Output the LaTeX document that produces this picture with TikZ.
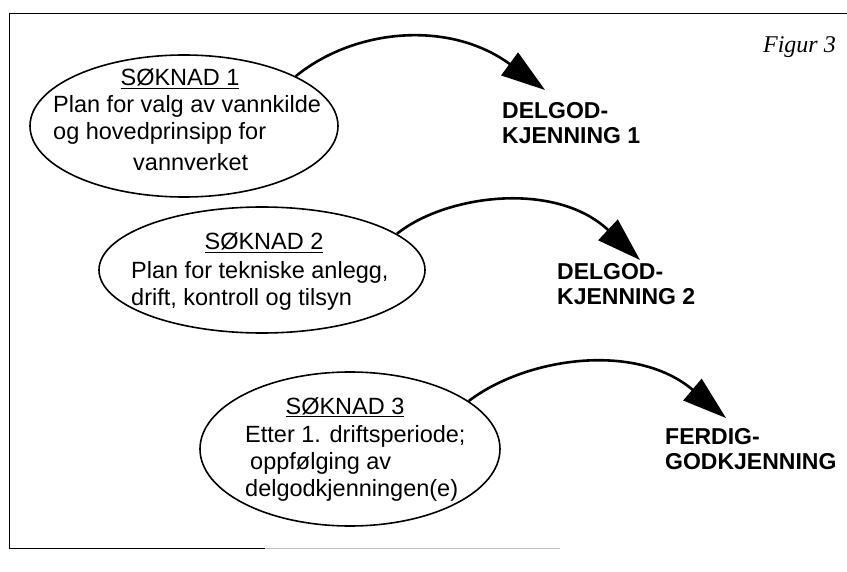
\documentclass[tikz,border=0pt]{standalone}
\usepackage{fontspec}
\setmainfont{Liberation Sans}
\newfontfamily\figfont{Liberation Serif}
\usetikzlibrary{arrows.meta,shapes.geometric}

\begin{document}
\begin{tikzpicture}[x=1pt,y=-1pt,
  soknad/.style={draw, ellipse, line width=1.6pt, inner sep=0pt},
  tittel/.style={anchor=base, inner sep=0pt, font=\fontsize{23.5}{27}\selectfont},
  tekst/.style={anchor=north west, align=left, inner sep=0pt, font=\fontsize{23.5}{27}\selectfont},
  godkj/.style={anchor=north west, align=left, inner sep=0pt, font=\bfseries\fontsize{23}{25}\selectfont},
  pil/.style={line width=2.6pt, -{Triangle[length=44pt,width=28pt]}}]
\useasboundingbox (0,0) rectangle (847,572);
% frame
\draw[line width=1pt] (847,14)--(9,14)--(9,548)--(265,548);
\draw[line width=1pt, gray!50] (265,548)--(560,548);
\node[anchor=base east, inner sep=0pt, font=\figfont\itshape\fontsize{24}{28}\selectfont] (fig) at (836,53) {Figur 3};
% soknad 1
\node[soknad, minimum width=308pt, minimum height=142pt] (s1) at (184,126) {};
\node[tittel] (t1) at (180,86) {\underline{SØKNAD 1}};
\node[tekst] (p1) at (53,95) {Plan for valg av vannkilde\\og hovedprinsipp for\\[4pt]\hspace*{80pt}vannverket};
\node[godkj] (g1) at (502,102) {DELGOD-\\KJENNING 1};
\coordinate (e1) at (545,90);
\draw[pil] (s1.24) .. controls (355,28) and (450,20) .. (e1);
% soknad 2
\node[soknad, minimum width=326pt, minimum height=126pt] (s2) at (262,270) {};
\node[tittel] (t2) at (264,250) {\underline{SØKNAD 2}};
\node[tekst] (p2) at (131,261) {Plan for tekniske anlegg,\\drift, kontroll og tilsyn};
\node[godkj] (g2) at (557,263) {DELGOD-\\KJENNING 2};
\coordinate (e2) at (640,260);
\draw[pil] (s2.15) .. controls (445,195) and (555,180) .. (e2);
% soknad 3
\node[soknad, minimum width=300pt, minimum height=154pt] (s3) at (350,449) {};
\node[tittel] (t3) at (345,414) {\underline{SØKNAD 3}};
\node[tekst] (p3) at (245,425) {Etter 1. driftsperiode;\\\hspace*{5pt}oppfølging av\\delgodkjenningen(e)};
\node[godkj] (g3) at (665,428) {FERDIG-\\GODKJENNING};
\coordinate (e3) at (726,418);
\draw[pil] (s3.22) .. controls (525,358) and (635,341) .. (e3);
\end{tikzpicture}
\end{document}
